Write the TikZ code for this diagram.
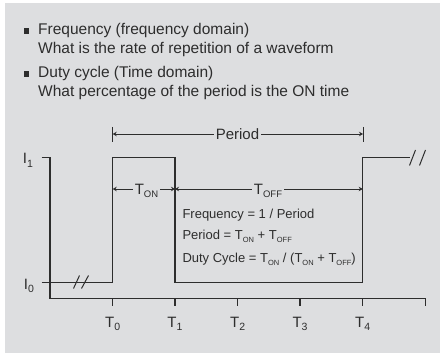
\documentclass[tikz,border=0pt]{standalone}
\usepackage{fontspec}
\setmainfont{Liberation Sans}
\usetikzlibrary{arrows.meta}
\definecolor{bg}{RGB}{221,222,224}
\definecolor{ink}{RGB}{45,45,45}
\newcommand{\sbs}[1]{\raisebox{-0.45ex}{\fontsize{10.5}{11}\selectfont #1}}
\newcommand{\lsb}[1]{\raisebox{-0.45ex}{\fontsize{9.5}{10}\selectfont #1}}
\newcommand{\fsb}[1]{\raisebox{-0.4ex}{\fontsize{7.5}{9}\selectfont #1}}
\begin{document}
\begin{tikzpicture}[x=1pt,y=-1pt,
  hdr/.style={font=\fontsize{15.5}{17}\selectfont, anchor=base west, inner sep=0pt, text=ink},
  frm/.style={font=\fontsize{13}{15}\selectfont, anchor=base west, inner sep=0pt, text=ink},
  lbl/.style={font=\fontsize{15}{17}\selectfont, anchor=base, inner sep=2pt, text=ink},
  wave/.style={draw=ink, line width=1.1pt},
  thin/.style={draw=ink, line width=0.8pt},
  dimarrow/.style={draw=ink, line width=0.8pt, -{Stealth[length=4pt,width=4.5pt]}},
  brk/.style={draw=ink, line width=1pt}]
\useasboundingbox (0,0) rectangle (440,353);
\fill[bg] (5,3) rectangle (440,353);

% header
\fill[ink] (23.5,28.5) rectangle (29,34);
\node[hdr] (h1) at (38,34.3) {Frequency (frequency domain)};
\node[hdr] (h2) at (38,53.3) {What is the rate of repetition of a waveform};
\fill[ink] (23.5,71.5) rectangle (29,77);
\node[hdr] (h3) at (38,77.3) {Duty cycle (Time domain)};
\node[hdr] (h4) at (38,96.5) {What percentage of the period is the ON time};

% time coordinates
\coordinate (T0) at (112.7,298.3);
\coordinate (T1) at (175,298.3);
\coordinate (T2) at (237.7,298.3);
\coordinate (T3) at (300,298.3);
\coordinate (T4) at (362.7,298.3);
\coordinate (T5) at (425.7,298.3);
\coordinate (O) at (50,298.3);
\coordinate (Y1) at (50,157.3);

% axes
\draw[wave] (Y1) -- (O) -- (T5);
\foreach \t in {T0,T1,T2,T3,T4,T5} \draw[wave] (\t) -- ++(0,7.5);
\draw[wave] (41.7,157.3) -- (Y1);

\node[lbl] (i1) at (28,163.5) {I\sbs{1}};
\node[lbl] (i0) at (29,289) {I\sbs{0}};

% waveform
\draw[wave] (41.7,282.7) -- (112.7,282.7) -- (112.7,157.3) -- (175,157.3) -- (175,282.7)
  -- (362.7,282.7) -- (362.7,157.3) -- (410,157.3);
\draw[brk] (73.5,288.5) -- (79.5,275.5);
\draw[brk] (81.5,288.5) -- (88.5,275.5);
\draw[brk] (409.5,165.5) -- (415.5,150);
\draw[brk] (419.5,165.5) -- (425.5,150);

% tick labels
\node[lbl] (l0) at (112.7,327) {T\sbs{0}};
\node[lbl] (l1) at (175,327) {T\sbs{1}};
\node[lbl] (l2) at (237.7,327) {T\sbs{2}};
\node[lbl] (l3) at (300,327) {T\sbs{3}};
\node[lbl] (l4) at (362.7,327) {T\sbs{4}};

% period
\coordinate (pL) at (112.7,134);
\coordinate (pR) at (363,134);
\draw[thin] (112.7,127) -- (112.7,141.7);
\draw[thin] (363,127) -- (363,141.7);
\node[lbl] (per) at (237.5,139.5) {Period};
\draw[dimarrow] (per.west |- pL) -- (pL);
\draw[dimarrow] (per.east |- pR) -- (pR);

% T_ON / T_OFF
\coordinate (onL) at (112.7,189);
\coordinate (onR) at (175,189);
\coordinate (offR) at (362.7,189);
\node[lbl] (ton) at (146.5,194) {T\lsb{ON}};
\node[lbl] (toff) at (268,194) {T\lsb{OFF}};
\draw[dimarrow] (ton.west |- onL) -- (onL);
\draw[dimarrow] (ton.east |- onR) -- (onR);
\draw[dimarrow] (toff.west |- onR) -- (onR);
\draw[dimarrow] (toff.east |- offR) -- (offR);

% formulas
\node[frm] (f1) at (182.3,218.3) {Frequency = 1 / Period};
\node[frm] (f2) at (182.3,240) {Period = T\fsb{ON} + T\fsb{OFF}};
\node[frm] (f3) at (182.3,262.5) {Duty Cycle = T\fsb{ON} / (T\fsb{ON} + T\fsb{OFF})};
\end{tikzpicture}
\end{document}
